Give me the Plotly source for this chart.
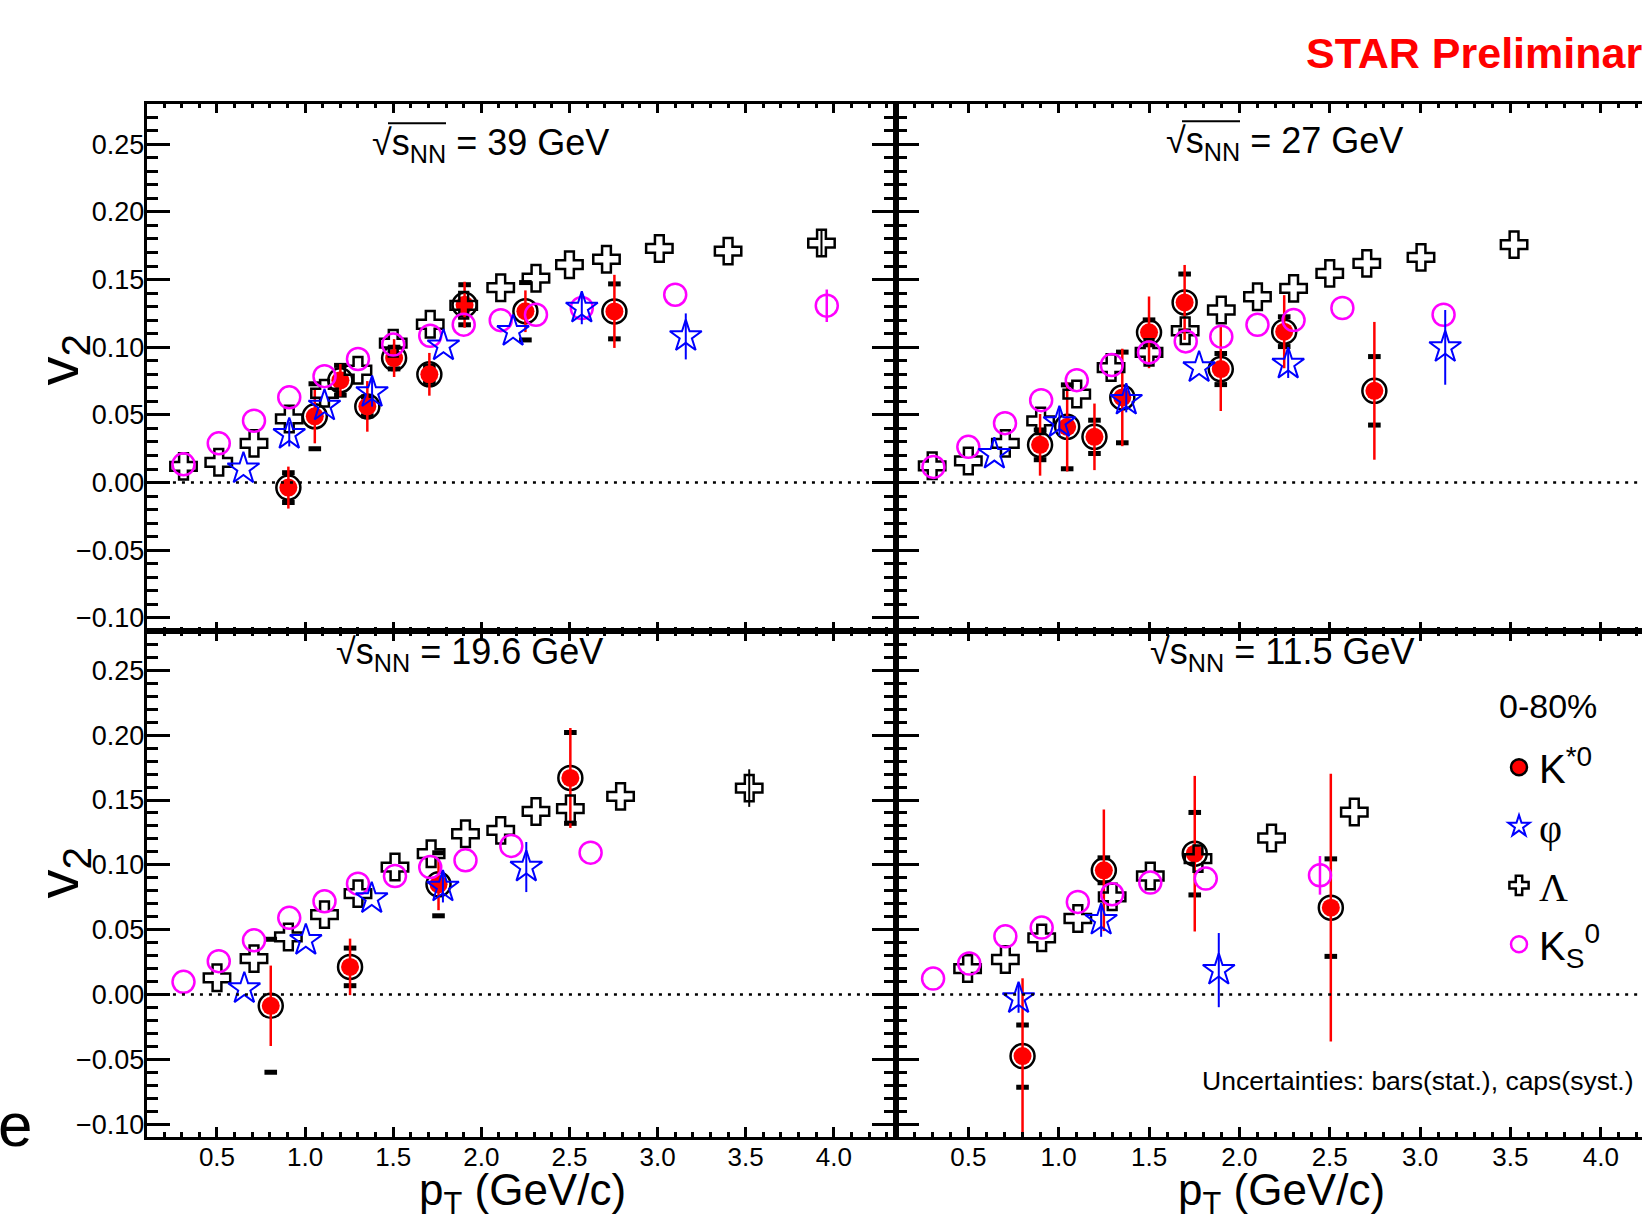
import plotly.graph_objects as go

W, H = 1642, 1215

# ------------------------------------------------------------------ data
# sqrt(sNN) = 39 GeV
k39_pt = [0.905, 1.055, 1.20, 1.353, 1.505, 1.705, 1.905, 2.25, 2.755]
k39_v2 = [-0.0037, 0.049, 0.0756, 0.0563, 0.092, 0.080, 0.1314, 0.1266, 0.1265]
k39_stat = [0.0155, 0.020, 0.012, 0.0187, 0.014, 0.0158, 0.017, 0.0154, 0.027]
k39_syst = [0.011, 0.024, 0.011, 0.007, 0.008, 0.006, 0.0148, 0.0212, 0.0203]
phi39_pt = [0.65, 0.91, 1.11, 1.38, 1.785, 2.18, 2.57, 3.16]
phi39_v2 = [0.0103, 0.0357, 0.0567, 0.0666, 0.1011, 0.1118, 0.129, 0.108]
phi39_err = [0.0, 0.009, 0.0, 0.0105, 0.0, 0.0, 0.012, 0.017]
lam39_pt = [0.31, 0.51, 0.71, 0.91, 1.11, 1.30, 1.50, 1.71, 1.90, 2.11, 2.31, 2.50, 2.71, 3.01, 3.40, 3.93]
lam39_v2 = [0.012, 0.015, 0.029, 0.047, 0.066, 0.083, 0.103, 0.117, 0.131, 0.144, 0.151, 0.161, 0.165, 0.173, 0.171, 0.177]
lam39_err = [0.0, 0.0, 0.0, 0.0, 0.0, 0.0, 0.0, 0.0, 0.0, 0.0, 0.0, 0.0, 0.0, 0.0, 0.0, 0.0095]
ks39_pt = [0.31, 0.51, 0.71, 0.91, 1.11, 1.30, 1.50, 1.71, 1.90, 2.11, 2.31, 2.57, 3.10, 3.96]
ks39_v2 = [0.0135, 0.029, 0.0457, 0.063, 0.0786, 0.0913, 0.102, 0.1085, 0.1167, 0.120, 0.124, 0.129, 0.1388, 0.1307]
ks39_err = [0.0, 0.0, 0.0, 0.0, 0.0, 0.0, 0.0, 0.0, 0.0, 0.0, 0.0, 0.0, 0.0, 0.012]

# sqrt(sNN) = 27 GeV
k27_pt = [0.897, 1.047, 1.198, 1.352, 1.50, 1.697, 1.897, 2.248, 2.747]
k27_v2 = [0.0279, 0.0412, 0.0338, 0.0629, 0.111, 0.1331, 0.0839, 0.1115, 0.0678]
k27_stat = [0.0228, 0.033, 0.0246, 0.036, 0.0265, 0.0277, 0.031, 0.027, 0.0509]
k27_syst = [0.011, 0.031, 0.0123, 0.0335, 0.0092, 0.021, 0.0115, 0.011, 0.0253]
phi27_pt = [0.644, 1.004, 1.374, 1.777, 2.27, 3.139]
phi27_v2 = [0.021, 0.0444, 0.0609, 0.085, 0.0876, 0.0999]
phi27_err = [0.0, 0.010, 0.009, 0.0, 0.0103, 0.0276]
lam27_pt = [0.30, 0.50, 0.705, 0.90, 1.10, 1.29, 1.50, 1.70, 1.90, 2.10, 2.30, 2.50, 2.705, 3.005, 3.52]
lam27_v2 = [0.0124, 0.016, 0.029, 0.0456, 0.0654, 0.085, 0.0962, 0.1122, 0.1275, 0.1373, 0.1435, 0.1546, 0.162, 0.1664, 0.1758]
lam27_err = [0.0] * 15
ks27_pt = [0.307, 0.50, 0.703, 0.903, 1.10, 1.294, 1.50, 1.703, 1.90, 2.10, 2.30, 2.57, 3.13]
ks27_v2 = [0.0116, 0.0264, 0.0439, 0.0609, 0.0757, 0.0868, 0.0962, 0.1043, 0.1078, 0.1166, 0.1201, 0.129, 0.124]
ks27_err = [0.0] * 13

# sqrt(sNN) = 19.6 GeV
k19_pt = [0.805, 1.255, 1.757, 2.505]
k19_v2 = [-0.0087, 0.0213, 0.085, 0.167]
k19_stat = [0.031, 0.0218, 0.020, 0.0385]
k19_syst = [0.0513, 0.0145, 0.0243, 0.035]
phi19_pt = [0.655, 1.004, 1.378, 1.782, 2.255]
phi19_v2 = [0.0046, 0.0418, 0.074, 0.083, 0.0983]
phi19_err = [0.0, 0.0, 0.0, 0.012, 0.0193]
lam19_pt = [0.50, 0.71, 0.905, 1.11, 1.30, 1.51, 1.715, 1.91, 2.11, 2.31, 2.505, 2.79, 3.52]
lam19_v2 = [0.0129, 0.0277, 0.0444, 0.0616, 0.0778, 0.0983, 0.1086, 0.124, 0.1266, 0.1412, 0.1433, 0.1528, 0.1592]
lam19_err = [0.0] * 12 + [0.0145]
ks19_pt = [0.31, 0.51, 0.71, 0.91, 1.11, 1.30, 1.51, 1.71, 1.91, 2.17, 2.62]
ks19_v2 = [0.0098, 0.0257, 0.0418, 0.0591, 0.0719, 0.0855, 0.0914, 0.0983, 0.1035, 0.1146, 0.1094]
ks19_err = [0.0] * 11

# sqrt(sNN) = 11.5 GeV
k11_pt = [0.80, 1.25, 1.753, 2.506]
k11_v2 = [-0.0475, 0.0958, 0.1086, 0.067]
k11_stat = [0.060, 0.0469, 0.060, 0.1033]
k11_syst = [0.024, 0.0096, 0.0318, 0.0376]
phi11_pt = [0.778, 1.235, 1.886]
phi11_v2 = [-0.0031, 0.0573, 0.0188]
phi11_err = [0.011, 0.0128, 0.0286]
lam11_pt = [0.496, 0.705, 0.906, 1.106, 1.296, 1.507, 1.771, 2.178, 2.636]
lam11_v2 = [0.020, 0.027, 0.0437, 0.0586, 0.0753, 0.0914, 0.1048, 0.1207, 0.1407]
lam11_err = [0.0] * 9
ks11_pt = [0.305, 0.505, 0.705, 0.906, 1.106, 1.296, 1.507, 1.814, 2.446]
ks11_v2 = [0.0123, 0.0239, 0.0449, 0.0516, 0.0714, 0.0773, 0.0863, 0.0894, 0.0919]
ks11_err = [0.0] * 8 + [0.0149]

energy_labels = ["39", "27", "19.6", "11.5"]
legend_names = ["K<sup>*0</sup>",
                "<span style='font-family:Liberation Serif'>\u03c6</span>",
                "<span style='font-family:Liberation Serif'>\u039b</span>",
                "K<sub>S</sub><sup>0</sup>"]
centrality = "0-80%"
y_ticks_fmt = ".2f"
x_ticks_fmt = ".1f"

panels = [
    dict(ax="", k=(k39_pt, k39_v2, k39_stat, k39_syst), phi=(phi39_pt, phi39_v2, phi39_err),
         lam=(lam39_pt, lam39_v2, lam39_err), ks=(ks39_pt, ks39_v2, ks39_err)),
    dict(ax="2", k=(k27_pt, k27_v2, k27_stat, k27_syst), phi=(phi27_pt, phi27_v2, phi27_err),
         lam=(lam27_pt, lam27_v2, lam27_err), ks=(ks27_pt, ks27_v2, ks27_err)),
    dict(ax="3", k=(k19_pt, k19_v2, k19_stat, k19_syst), phi=(phi19_pt, phi19_v2, phi19_err),
         lam=(lam19_pt, lam19_v2, lam19_err), ks=(ks19_pt, ks19_v2, ks19_err)),
    dict(ax="4", k=(k11_pt, k11_v2, k11_stat, k11_syst), phi=(phi11_pt, phi11_v2, phi11_err),
         lam=(lam11_pt, lam11_v2, lam11_err), ks=(ks11_pt, ks11_v2, ks11_err)),
]

RED, BLUE, MAG, BLK = "#ff0000", "#0000ff", "#ff00ff", "#000000"
FONT = "Liberation Sans, Arial, sans-serif"

fig = go.Figure()

for p in panels:
    xa, ya = "x" + p["ax"], "y" + p["ax"]
    kpt, kv2, kstat, ksyst = p["k"]
    # syst caps
    cap_y = [v + s for v, s in zip(kv2, ksyst)] + [v - s for v, s in zip(kv2, ksyst)]
    fig.add_trace(go.Scatter(x=list(kpt) + list(kpt), y=cap_y, mode="markers", xaxis=xa, yaxis=ya,
                             marker=dict(symbol="line-ew", size=9, color=BLK, line=dict(width=5, color=BLK)),
                             showlegend=False, hoverinfo="skip"))
    # ring
    fig.add_trace(go.Scatter(x=kpt, y=kv2, mode="markers", xaxis=xa, yaxis=ya,
                             marker=dict(symbol="circle-open", size=24, color=BLK, line=dict(width=2.5, color=BLK)),
                             showlegend=False))
    # red dot with stat errors
    fig.add_trace(go.Scatter(x=kpt, y=kv2, mode="markers", xaxis=xa, yaxis=ya,
                             error_y=dict(type="data", array=kstat, color=RED, thickness=2.5, width=0),
                             marker=dict(symbol="circle", size=18, color=RED, line=dict(width=0)),
                             showlegend=False))
    lpt, lv2, lerr = p["lam"]
    fig.add_trace(go.Scatter(x=lpt, y=lv2, mode="markers", xaxis=xa, yaxis=ya,
                             error_y=dict(type="data", array=lerr, color=BLK, thickness=2, width=0),
                             marker=dict(symbol="cross-open", size=22, color=BLK, line=dict(width=2.5, color=BLK)),
                             showlegend=False))
    spt, sv2, serr = p["ks"]
    fig.add_trace(go.Scatter(x=spt, y=sv2, mode="markers", xaxis=xa, yaxis=ya,
                             error_y=dict(type="data", array=serr, color=MAG, thickness=2.5, width=0),
                             marker=dict(symbol="circle-open", size=22, color=MAG, line=dict(width=2.5, color=MAG)),
                             showlegend=False))
    ppt, pv2, perr = p["phi"]
    fig.add_trace(go.Scatter(x=ppt, y=pv2, mode="markers", xaxis=xa, yaxis=ya,
                             error_y=dict(type="data", array=perr, color=BLUE, thickness=2, width=0),
                             marker=dict(symbol="star-open", size=24, color=BLUE, line=dict(width=2, color=BLUE)),
                             showlegend=False))

# legend-only entries (no data)
leg_markers = [
    dict(symbol="circle", size=16, color=RED, line=dict(width=2.5, color=BLK)),
    dict(symbol="star-open", size=16, color=BLUE, line=dict(width=2, color=BLUE)),
    dict(symbol="cross-open", size=16, color=BLK, line=dict(width=2.5, color=BLK)),
    dict(symbol="circle-open", size=16, color=MAG, line=dict(width=2.5, color=MAG)),
]
for i, (nm, mk) in enumerate(zip(legend_names, leg_markers)):
    fig.add_trace(go.Scatter(x=[None], y=[None], mode="markers", xaxis="x4", yaxis="y4",
                             name=nm, marker=mk, legendgroup=f"g{i}", showlegend=True))

# ------------------------------------------------------------------ layout
def px_x(x):
    return x / W

def px_y(y):
    return 1 - y / H

L0, L1 = px_x(146.5), px_x(895.5)
R0, R1 = px_x(895.5), 1.0
T0, T1 = px_y(632.5), px_y(103.8)
B0, B1 = px_y(1139), px_y(632.5)

common_x = dict(ticks="inside", ticklen=10, tickwidth=2.5, tickcolor=BLK, dtick=0.5, tick0=0,
                minor=dict(ticks="inside", ticklen=5, tickwidth=2.5, dtick=0.1, tickcolor=BLK),
                showline=True, linewidth=2.5, linecolor=BLK, mirror="ticks", showgrid=False,
                zeroline=False, tickformat=x_ticks_fmt, ticklabelstandoff=-5,
                tickfont=dict(family=FONT, size=26, color=BLK))
common_y = dict(ticks="inside", ticklen=24, tickwidth=2.5, tickcolor=BLK, dtick=0.05, tick0=0,
                minor=dict(ticks="inside", ticklen=12, tickwidth=2.5, dtick=0.01, tickcolor=BLK),
                showline=True, linewidth=2.5, linecolor=BLK, showgrid=False, range=[-0.11, 0.28],
                zeroline=False, tickformat=y_ticks_fmt, ticklabelstandoff=-6,
                tickfont=dict(family=FONT, size=27, color=BLK))

fig.update_layout(
    width=W, height=H, margin=dict(l=0, r=0, t=0, b=0),
    paper_bgcolor="white", plot_bgcolor="white",
    xaxis=dict(common_x, domain=[L0, L1], anchor="y", range=[0.1, 4.35], showticklabels=False),
    xaxis2=dict(common_x, domain=[R0, R1], anchor="y2", range=[0.097, 4.228], showticklabels=False),
    xaxis3=dict(common_x, domain=[L0, L1], anchor="y3", range=[0.1, 4.35], showticklabels=True),
    xaxis4=dict(common_x, domain=[R0, R1], anchor="y4", range=[0.097, 4.228], showticklabels=True),
    yaxis=dict(common_y, domain=[T0, T1], anchor="x", mirror="ticks", showticklabels=True),
    yaxis2=dict(common_y, domain=[T0, T1], anchor="x2", mirror=False, showticklabels=False),
    yaxis3=dict(common_y, domain=[B0, B1], anchor="x3", mirror="ticks", showticklabels=True),
    yaxis4=dict(common_y, domain=[B0, B1], anchor="x4", mirror=False, showticklabels=False),
    showlegend=True,
    legend=dict(x=px_x(1499), y=px_y(736), xanchor="left", yanchor="top",
                font=dict(family=FONT, size=40, color=BLK), bgcolor="rgba(0,0,0,0)",
                itemsizing="trace", tracegroupgap=4, traceorder="grouped"),
    font=dict(family=FONT, color=BLK),
)

# zero reference lines
for ax in ["", "2", "3", "4"]:
    fig.add_shape(type="line", xref="x" + ax, yref="y" + ax, x0=0.25, x1=4.25, y0=0, y1=0,
                  line=dict(color=BLK, width=2.5, dash="3px,6px"))


def add_text(txt, x, y, size, xanchor="center", yanchor="middle", angle=0, color=BLK, bold=False,
             family=FONT):
    fig.add_annotation(text=("<b>" + txt + "</b>") if bold else txt, x=px_x(x), y=px_y(y),
                       xref="paper", yref="paper", xanchor=xanchor, yanchor=yanchor,
                       showarrow=False, textangle=angle,
                       font=dict(family=family, size=size, color=color))


# panel titles: (left x, baseline y) in pixels
title_pos = [(370, 155), (1164, 153), (334, 665), (1148, 665)]
for lab, (tx, tb) in zip(energy_labels, title_pos):
    add_text("\u221as<sub>NN</sub> = " + lab + " GeV", tx, tb - 10, 36, xanchor="left")
    # overline of the square root
    fig.add_shape(type="line", xref="paper", yref="paper",
                  x0=px_x(tx + 18), x1=px_x(tx + 76), y0=px_y(tb - 31.5), y1=px_y(tb - 31.5),
                  line=dict(color=BLK, width=2))

add_text("v<sub>2</sub>", 62, 360, 58, angle=-90, family="Liberation Sans Narrow, Liberation Sans, Arial")
add_text("v<sub>2</sub>", 62, 874, 58, angle=-90, family="Liberation Sans Narrow, Liberation Sans, Arial")
add_text("p<sub>T</sub> (GeV/c)", 522, 1195, 44)
add_text("p<sub>T</sub> (GeV/c)", 1281, 1195, 44)
add_text("STAR Preliminary", 1304, 53, 43, xanchor="left", color=RED, bold=True)
add_text(centrality, 1497, 707, 34, xanchor="left")
add_text("Uncertainties: bars(stat.), caps(syst.)", 1635, 1083, 26.5, xanchor="right")
add_text("e", -4, 1126, 62, xanchor="left")

fig.write_html("out.html", config={"displayModeBar": False},
               post_script="document.body.style.margin='0px';document.body.style.overflow='hidden';")
